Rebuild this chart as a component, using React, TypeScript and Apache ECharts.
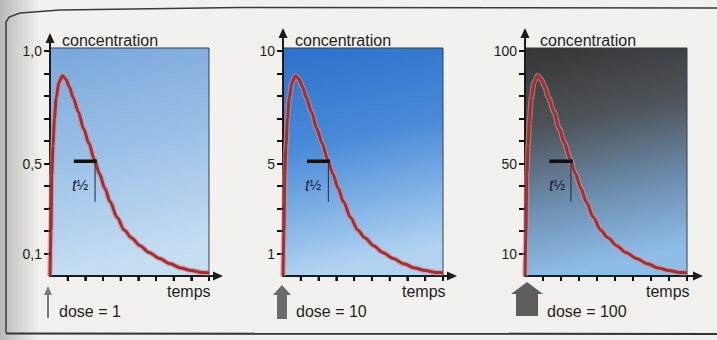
import React, { useEffect, useRef } from 'react';
import * as echarts from 'echarts';

// ---- data ----
const timePoints = [0, 0.05, 0.1, 0.17, 0.25, 0.35, 0.5, 0.7, 0.9, 1.1, 1.3, 1.6, 1.9, 2.2, 2.5, 2.8, 3.1, 3.4, 3.8, 4.2, 4.6, 5.1, 5.6, 6.2, 6.8, 7.4, 8.0, 8.6, 9.0];
const concDose1 = [0, 0.2, 0.45, 0.58, 0.7, 0.79, 0.86, 0.89, 0.875, 0.84, 0.795, 0.73, 0.655, 0.59, 0.52, 0.455, 0.39, 0.33, 0.26, 0.205, 0.17, 0.135, 0.105, 0.078, 0.054, 0.036, 0.024, 0.016, 0.014];
const concDose10 = [0, 2, 4.5, 5.8, 7, 7.9, 8.6, 8.9, 8.75, 8.4, 7.95, 7.3, 6.55, 5.9, 5.2, 4.55, 3.9, 3.3, 2.6, 2.05, 1.7, 1.35, 1.05, 0.78, 0.54, 0.36, 0.24, 0.16, 0.14];
const concDose100 = [0, 20, 45, 58, 70, 79, 86, 89, 87.5, 84, 79.5, 73, 65.5, 59, 52, 45.5, 39, 33, 26, 20.5, 17, 13.5, 10.5, 7.8, 5.4, 3.6, 2.4, 1.6, 1.4];
const concSeries = [concDose1, concDose10, concDose100];

const doseLabels = ['dose = 1', 'dose = 10', 'dose = 100'];
const yFullScale = [1, 10, 100];
const yTickValues = [
  [0.1, 0.2, 0.3, 0.4, 0.5, 0.6, 0.7, 0.8, 0.9, 1.0],
  [1, 2, 3, 4, 5, 6, 7, 8, 9, 10],
  [10, 20, 30, 40, 50, 60, 70, 80, 90, 100],
];
const yLabelValues = [
  [0.1, 0.5, 1.0],
  [1, 5, 10],
  [10, 50, 100],
];
const yLabelTexts = [
  ['0,1', '0,5', '1,0'],
  ['1', '5', '10'],
  ['10', '50', '100'],
];
const xTickValues = [1, 2, 3, 4, 5, 6, 7, 8, 9];
const plotEndTime = 9;
// half-life marker: bar from t 1.35 to 2.65 at half level, vertical at 2.55 down to 0.33 of full scale
const halfBarTimes = [1.35, 2.65];
const halfLineTime = 2.55;
const halfLevels = [0.51, 5.1, 51];
const halfLowLevels = [0.33, 3.3, 33];

// ---- layout (pixels) ----
const AXIS_Y = 276; // x-axis line
const FULL_Y = 51; // pixel of full-scale value
const PLOT_TOP = 48;
const Y_TICK_PX = 6;
const X_TICK_PX = 5;
const layout = [
  { left: 50, gridTop: 38, gridRight: 218, plotRight: 209, concX: 62, tempsX: 167, doseX: 59, halfX: 72 },
  { left: 283, gridTop: 33, gridRight: 452, plotRight: 443, concX: 295, tempsX: 402, doseX: 296, halfX: 305 },
  { left: 525, gridTop: 33, gridRight: 698, plotRight: 687, concX: 540, tempsX: 646, doseX: 547, halfX: 549 },
];
const bgStops = [
  [
    { offset: 0, color: '#79a7dc' },
    { offset: 0.5, color: '#9cc1e8' },
    { offset: 1, color: '#c6def2' },
  ],
  [
    { offset: 0, color: '#2b70cb' },
    { offset: 0.45, color: '#4a8bd8' },
    { offset: 1, color: '#b3d4f1' },
  ],
  [
    { offset: 0, color: '#343536' },
    { offset: 0.35, color: '#4d5358' },
    { offset: 0.7, color: '#6d8eb0' },
    { offset: 1, color: '#8fbde8' },
  ],
];

const FONT = '"Liberation Sans", Arial, Helvetica, sans-serif';
const TEXT = '#1f1f1f';
const AXIS = '#1c1c1c';
const TICK = '#111111';

function buildOption() {
  const grids: any[] = [];
  const xAxes: any[] = [];
  const yAxes: any[] = [];
  const series: any[] = [];
  const graphics: any[] = [];

  // scan shading on the left + frame
  graphics.push({
    type: 'rect',
    shape: { x: 0, y: 0, width: 40, height: 340 },
    style: {
      fill: {
        type: 'linear', x: 0, y: 0, x2: 1, y2: 0,
        colorStops: [
          { offset: 0, color: 'rgba(140,140,135,0.55)' },
          { offset: 1, color: 'rgba(140,140,135,0)' },
        ],
      },
    },
    z: -5,
    silent: true,
  });
  graphics.push({
    type: 'polyline',
    shape: { points: [[6, 333], [6, 22], [9, 17], [20, 13], [60, 10], [240, 7.5], [717, 8]] },
    style: { stroke: '#3a3a3a', lineWidth: 1.5, fill: null },
    z: 20,
    silent: true,
  });
  graphics.push({
    type: 'line',
    shape: { x1: 6, y1: 333.5, x2: 717, y2: 334 },
    style: { stroke: '#333', lineWidth: 2 },
    z: 20,
    silent: true,
  });

  layout.forEach((L, i) => {
    const plotW = L.plotRight - L.left;
    const gridW = L.gridRight - L.left;
    const gridH = AXIS_Y - L.gridTop;
    const tMax = (plotEndTime * gridW) / plotW;
    const full = yFullScale[i];
    const yMax = (full * gridH) / (AXIS_Y - FULL_Y);
    const plotTopVal = (full * (AXIS_Y - PLOT_TOP)) / (AXIS_Y - FULL_Y);
    const yTickLenT = (Y_TICK_PX * tMax) / gridW; // tick length in time units
    const xTickLenV = (X_TICK_PX * yMax) / gridH; // tick length in concentration units

    grids.push({ left: L.left, top: L.gridTop, width: gridW, height: gridH, containLabel: false });

    xAxes.push({
      gridIndex: i,
      type: 'value',
      min: 0,
      max: tMax,
      axisLine: {
        show: true,
        symbol: ['none', 'triangle'],
        symbolSize: [9, 10],
        lineStyle: { color: AXIS, width: 2 },
      },
      axisTick: { show: true, customValues: xTickValues, length: X_TICK_PX, inside: false, lineStyle: { color: TICK, width: 2 } },
      axisLabel: { show: false },
      splitLine: { show: false },
    });

    const labVals = yLabelValues[i];
    const labTxt = yLabelTexts[i];
    yAxes.push({
      gridIndex: i,
      type: 'value',
      min: 0,
      max: yMax,
      axisLine: {
        show: true,
        symbol: ['none', 'triangle'],
        symbolSize: [9, 10],
        lineStyle: { color: AXIS, width: 2 },
      },
      axisTick: { show: true, customValues: yTickValues[i], length: Y_TICK_PX, inside: false, lineStyle: { color: TICK, width: 2 } },
      axisLabel: {
        show: true,
        customValues: labVals,
        formatter: (v: number) => {
          const k = labVals.findIndex((x) => Math.abs(x - v) < 1e-6);
          return k >= 0 ? labTxt[k] : '';
        },
        fontSize: 14,
        fontFamily: FONT,
        color: TEXT,
        margin: 8,
      },
      splitLine: { show: false },
    });

    const stops = bgStops[i];
    series.push({
      type: 'custom',
      xAxisIndex: i,
      yAxisIndex: i,
      z: -1,
      silent: true,
      clip: false,
      data: [[0, 0, plotEndTime, plotTopVal]],
      renderItem: (params: any, api: any) => {
        const p0 = api.coord([api.value(0), api.value(1)]);
        const p1 = api.coord([api.value(2), api.value(3)]);
        return {
          type: 'rect',
          shape: { x: p0[0], y: p1[1], width: p1[0] - p0[0], height: p0[1] - p1[1] },
          style: {
            fill: { type: 'linear', x: 0, y: 0, x2: 0.15, y2: 1, colorStops: stops },
            stroke: '#33404f',
            lineWidth: 1,
          },
        };
      },
    });

    // tick marks as broken line segments (outside the plot), same places as the axis ticks
    const yTickData: any[] = [];
    yTickValues[i].forEach((v) => {
      yTickData.push([-yTickLenT, v], [0, v], null);
    });
    series.push({
      type: 'line',
      xAxisIndex: i,
      yAxisIndex: i,
      z: 6,
      silent: true,
      clip: false,
      showSymbol: false,
      connectNulls: false,
      data: yTickData,
      lineStyle: { color: TICK, width: 2 },
    });
    const xTickData: any[] = [];
    xTickValues.forEach((t) => {
      xTickData.push([t, 0], [t, -xTickLenV], null);
    });
    series.push({
      type: 'line',
      xAxisIndex: i,
      yAxisIndex: i,
      z: 6,
      silent: true,
      clip: false,
      showSymbol: false,
      connectNulls: false,
      data: xTickData,
      lineStyle: { color: TICK, width: 2 },
    });

    const pts = timePoints.map((t, k) => [t, concSeries[i][k]]);
    series.push({
      type: 'line',
      xAxisIndex: i,
      yAxisIndex: i,
      z: 3,
      silent: true,
      showSymbol: false,
      smooth: 0.3,
      smoothMonotone: 'x',
      data: pts,
      lineStyle: { color: '#d98a84', width: 5.5, opacity: 0.65 },
    });
    series.push({
      type: 'line',
      xAxisIndex: i,
      yAxisIndex: i,
      z: 4,
      silent: true,
      showSymbol: false,
      smooth: 0.3,
      smoothMonotone: 'x',
      data: pts,
      lineStyle: { color: '#9c3036', width: 3 },
    });
    series.push({
      type: 'line',
      xAxisIndex: i,
      yAxisIndex: i,
      z: 5,
      silent: true,
      showSymbol: false,
      data: halfBarTimes.map((t) => [t, halfLevels[i]]),
      lineStyle: { color: '#111', width: 3.5 },
    });
    series.push({
      type: 'line',
      xAxisIndex: i,
      yAxisIndex: i,
      z: 5,
      silent: true,
      showSymbol: false,
      data: [
        [halfLineTime, halfLevels[i]],
        [halfLineTime, halfLowLevels[i]],
      ],
      lineStyle: { color: '#1e2a38', width: 1 },
    });

    // texts
    graphics.push({
      type: 'text',
      x: L.concX,
      y: 40,
      z: 20,
      style: { text: 'concentration', font: `16px ${FONT}`, fill: TEXT, verticalAlign: 'middle', align: 'left' },
    });
    graphics.push({
      type: 'text',
      x: L.tempsX,
      y: 291,
      z: 20,
      style: { text: 'temps', font: `16px ${FONT}`, fill: TEXT, verticalAlign: 'middle', align: 'left' },
    });
    graphics.push({
      type: 'text',
      x: L.doseX,
      y: 311,
      z: 20,
      style: { text: doseLabels[i], font: `16px ${FONT}`, fill: TEXT, verticalAlign: 'middle', align: 'left' },
    });
    graphics.push({
      type: 'text',
      x: L.halfX,
      y: 185,
      z: 20,
      style: {
        text: '{t|t}{h|½}',
        verticalAlign: 'middle',
        align: 'left',
        rich: {
          t: { fontSize: 16, fontStyle: 'italic', fontFamily: FONT, fill: '#1a2030' },
          h: { fontSize: 14, fontFamily: FONT, fill: '#1a2030' },
        },
      },
    });
  });

  // dose arrows
  graphics.push({
    type: 'line',
    shape: { x1: 48, y1: 292, x2: 48, y2: 318 },
    style: { stroke: '#7a7a7a', lineWidth: 2 },
    z: 20,
  });
  graphics.push({
    type: 'polygon',
    shape: { points: [[48, 286], [52, 295], [44, 295]] },
    style: { fill: '#7a7a7a' },
    z: 20,
  });
  graphics.push({
    type: 'polygon',
    shape: { points: [[282, 285], [291, 295], [287, 295], [287, 319], [277, 319], [277, 295], [273, 295]] },
    style: { fill: '#6b6b6b' },
    z: 20,
  });
  graphics.push({
    type: 'polygon',
    shape: { points: [[527, 282], [543, 294], [538, 294], [538, 316], [516, 316], [516, 294], [511, 294]] },
    style: { fill: '#5e5e5e' },
    z: 20,
  });

  return {
    animation: false,
    backgroundColor: 'transparent',
    grid: grids,
    xAxis: xAxes,
    yAxis: yAxes,
    series,
    graphic: { elements: graphics },
  };
}

export default function App() {
  const ref = useRef<HTMLDivElement>(null);
  useEffect(() => {
    if (!ref.current) return;
    const chart = echarts.init(ref.current, null, { renderer: 'svg' });
    chart.setOption(buildOption() as any);
    return () => chart.dispose();
  }, []);
  return (
    <div
      ref={ref}
      style={{ position: 'absolute', left: 0, top: 0, width: 717, height: 340, background: '#f2f1ed' }}
    />
  );
}
